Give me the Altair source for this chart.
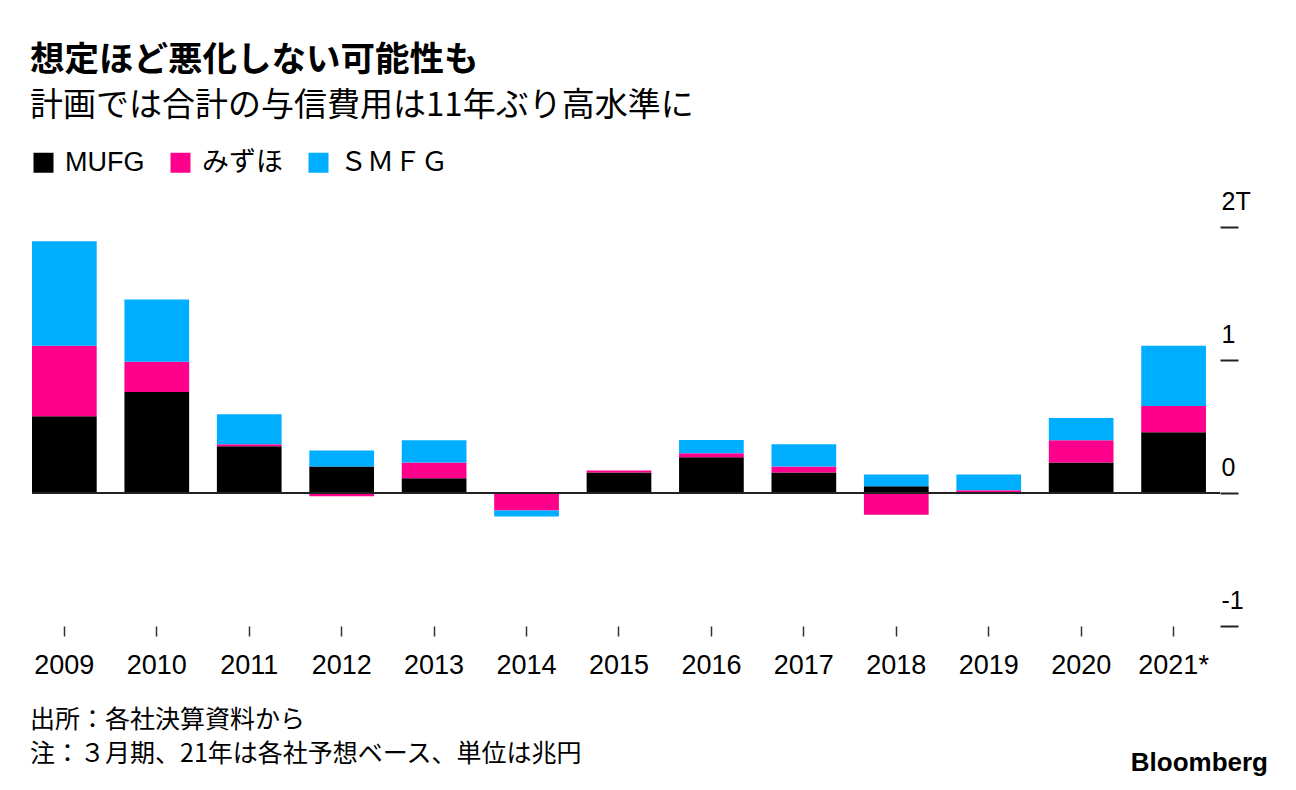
import altair as alt
import pandas as pd

# ---- data (trillion yen) ----
years = ["2009", "2010", "2011", "2012", "2013", "2014", "2015",
         "2016", "2017", "2018", "2019", "2020", "2021*"]
mufg = [0.578, 0.76, 0.351, 0.20, 0.11, 0.0, 0.155, 0.268, 0.155, 0.05, 0.0, 0.23, 0.457]
mizuho = [0.529, 0.226, 0.016, -0.024, 0.12, -0.132, 0.015, 0.03, 0.045, -0.163, 0.02, 0.167, 0.197]
smfg = [0.786, 0.469, 0.226, 0.12, 0.167, -0.045, 0.0, 0.10, 0.167, 0.09, 0.12, 0.166, 0.453]

banks = ["MUFG", "みずほ", "ＳＭＦＧ"]
colors = ["#000000", "#ff008c", "#00aeff"]
y_ticks = [-1, 0, 1, 2]

title_text = "想定ほど悪化しない可能性も"
subtitle_text = "計画では合計の与信費用は11年ぶり高水準に"
note1 = "出所：各社決算資料から"
note2 = "注：３月期、21年は各社予想ベース、単位は兆円"
brand = "Bloomberg"

rows = []
for series_idx, (name, vals) in enumerate(zip(banks, [mufg, mizuho, smfg])):
    for yr, v in zip(years, vals):
        rows.append({"year": yr, "bank": name, "value": v, "k": series_idx})
df = pd.DataFrame(rows)

LATIN = "Liberation Sans, Noto Sans CJK JP, sans-serif"
CJK = "Noto Sans CJK JP, sans-serif"

bars = alt.Chart(df).mark_bar().encode(
    x=alt.X("year:N", sort=years,
            scale=alt.Scale(paddingInner=0.3, paddingOuter=0.076, align=0),
            axis=alt.Axis(title=None, orient="bottom", domain=False, grid=False,
                          ticks=True, tickSize=10, tickWidth=1.5, tickColor="#333333",
                          labelFont=LATIN, labelFontSize=27, labelColor="#000000",
                          labelPadding=16, labelAngle=0)),
    y=alt.Y("value:Q", stack="zero",
            scale=alt.Scale(domain=[-1, 2], nice=False, zero=False),
            axis=alt.Axis(title=None, orient="right", values=y_ticks, domain=False,
                          grid=False, ticks=True, tickSize=18, tickWidth=2,
                          tickColor="#222222", labelFont=LATIN, labelFontSize=25,
                          labelColor="#000000", labelAlign="left",
                          labelBaseline="alphabetic", labelOffset=-18,
                          labelPadding=-17,
                          labelExpr="datum.value == 2 ? '2T' : (datum.value < 0 ? '-' + abs(datum.value) : '' + datum.value)")),
    color=alt.Color("bank:N", sort=banks,
                    scale=alt.Scale(domain=banks, range=colors),
                    legend=alt.Legend(title=None, orient="none", legendX=-2, legendY=-78,
                                      direction="horizontal", symbolType="square",
                                      symbolSize=400, symbolStrokeWidth=0,
                                      symbolOpacity=1, labelFont=LATIN,
                                      labelFontSize=27, labelColor="#000000",
                                      labelOffset=8, columnPadding=22, padding=0)),
    order=alt.Order("k:Q", sort="ascending"),
)

zero_line = alt.Chart(pd.DataFrame({"v": [0]})).mark_rule(
    color="#222222", strokeWidth=2
).encode(y="v:Q")

notes = alt.Chart(pd.DataFrame({"t": [note1]})).mark_text(
    font=CJK, fontSize=25, align="left", baseline="alphabetic", color="#000000"
).encode(text="t:N", x=alt.value(-2), y=alt.value(501))

notes2 = alt.Chart(pd.DataFrame({"t": [note2]})).mark_text(
    font=CJK, fontSize=25, align="left", baseline="alphabetic", color="#000000"
).encode(text="t:N", x=alt.value(-2), y=alt.value(535))

logo = alt.Chart(pd.DataFrame({"t": [brand]})).mark_text(
    font="Liberation Sans", fontSize=26, fontWeight="bold", align="right",
    baseline="alphabetic", color="#000000"
).encode(text="t:N", x=alt.value(1236), y=alt.value(544))

chart = alt.layer(bars, zero_line, notes, notes2, logo).properties(
    width=1188,
    height=399,
    autosize="none",
    padding={"left": 24, "top": 219, "right": 68, "bottom": 156},
    title=alt.TitleParams(
        text=title_text, subtitle=subtitle_text, anchor="start", frame="group",
        font=CJK, fontSize=34.5, fontWeight="bold", color="#000000",
        subtitleFont=CJK, subtitleFontSize=33, subtitleColor="#000000",
        subtitleFontWeight="normal", subtitlePadding=12, offset=25, dx=-2,
    ),
).configure(background="#ffffff").configure_view(stroke=None, strokeWidth=0)

chart.save("out.html", embed_options={"renderer": "svg", "actions": False})
